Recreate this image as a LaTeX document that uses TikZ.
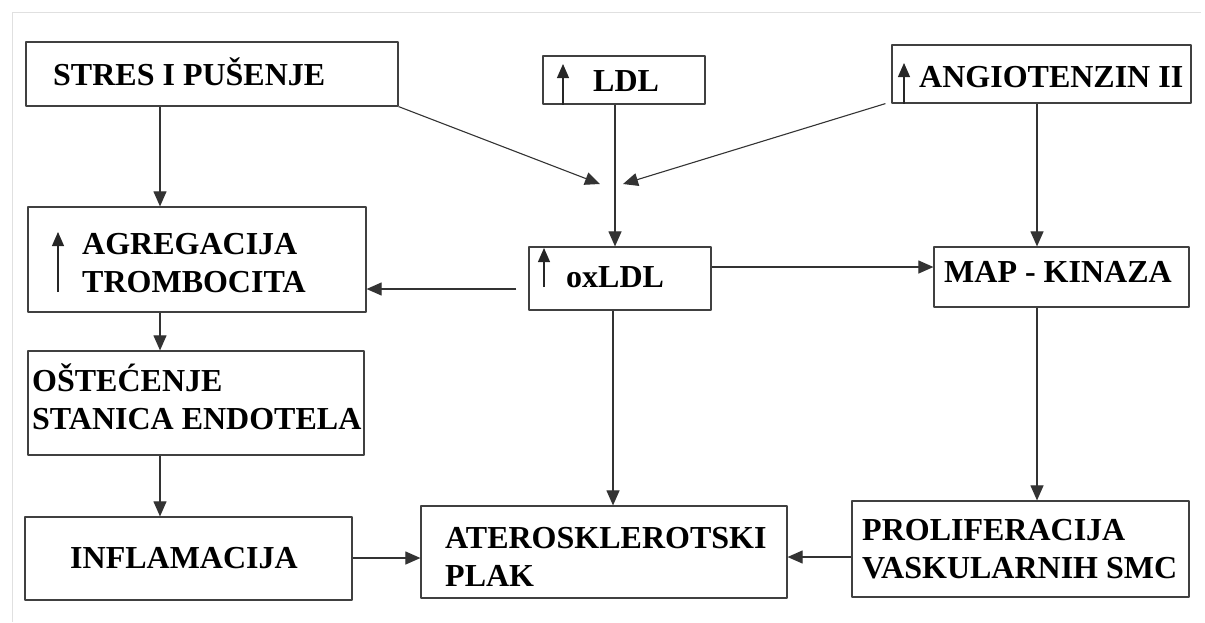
\documentclass[tikz,border=0pt]{standalone}
\usepackage{fontspec}
\setmainfont{Liberation Serif}
\usetikzlibrary{arrows.meta}
\tikzset{
	box/.style={draw=black!75,line width=1.2pt,rectangle,inner sep=0pt},
	lbl/.style={anchor=base west,inner sep=0pt,align=left,font=\fontsize{32}{38}\selectfont\bfseries},
	conn/.style={draw=black!80,line width=1.1pt,-{Triangle[length=15pt,width=13pt]}},
	up/.style={draw=black!85,line width=1.1pt,-{Triangle[length=14pt,width=12pt]}}
}
\begin{document}
\begin{tikzpicture}[x=1pt,y=-1pt,line join=round]
	\useasboundingbox (0,0) rectangle (1205,622);
	\draw[black!12,line width=1pt] (12,622)--(12,12)--(1201,12);
	\path (160,0) coordinate (lc)
	(615,0) coordinate (mc)
	(1037,0) coordinate (rc)
	(600,184) coordinate (jl)
	(623,184) coordinate (jr)
	;
	% boxes
	\foreach \n/\cx/\cy/\w/\h in {stres/212/74/372/64,agreg/197/259.5/338/105,
		ldl/624/80/162/48,ox/620/278.5/182/63,ang/1041.5/74/299/58,
		map/1061.5/277/255/60,ost/196/403/336/104,infl/188.5/558.5/327/83,
		plak/604/552/366/92,prol/1020.5/549/337/96}{
		\node[box,minimum width=\w,minimum height=\h] (\n) at (\cx,\cy) {};
	}
	% labels (base = last line)
	\foreach \n/\x/\y/\t in {stres/53/85/{STRES I PUŠENJE},agreg/82/292/{AGREGACIJA\\TROMBOCITA},
		ldl/593/91/{LDL},ox/566/287/{oxLDL},ang/919/87/{ANGIOTENZIN II},
		map/944/282/{MAP - KINAZA},ost/32/429/{OŠTEĆENJE\\STANICA ENDOTELA},
		infl/70/568/{INFLAMACIJA},plak/445/586/{ATEROSKLEROTSKI\\PLAK},
		prol/862/578/{PROLIFERACIJA\\VASKULARNIH SMC}}{
		\node[lbl] (\n-t) at (\x,\y) {\t};
	}
	% small up arrows
	\draw[up] (58,292)--(58,232);
	\draw[up] (ldl.south -| 563,0)--(563,64);
	\draw[up] (544,287)--(544,248);
	\draw[up] (ang.south -| 904,0)--(904,63);
	% connectors
	\draw[conn] (lc |- stres.south)--(lc |- agreg.north);
	\draw[conn] (lc |- agreg.south)--(lc |- ost.north);
	\draw[conn] (lc |- ost.south)--(lc |- infl.north);
	\draw[conn] (stres.south east)--(jl);
	\draw[conn] ([xshift=-6pt]ang.south west)--(jr);
	\draw[conn] (mc |- ldl.south)--(mc |- ox.north);
	\draw[conn] (rc |- ang.south)--(rc |- map.north);
	\draw[conn] ([xshift=-12pt]ox.west |- 0,289)--(agreg.east |- 0,289);
	\draw[conn] (ox.east |- 0,267)--(map.west |- 0,267);
	\draw[conn] (613,0 |- ox.south)--(613,0 |- plak.north);
	\draw[conn] (rc |- map.south)--(rc |- prol.north);
	\draw[conn] (infl.east |- 0,558)--(plak.west |- 0,558);
	\draw[conn] (prol.west |- 0,557)--(plak.east |- 0,557);
\end{tikzpicture}
\end{document}
